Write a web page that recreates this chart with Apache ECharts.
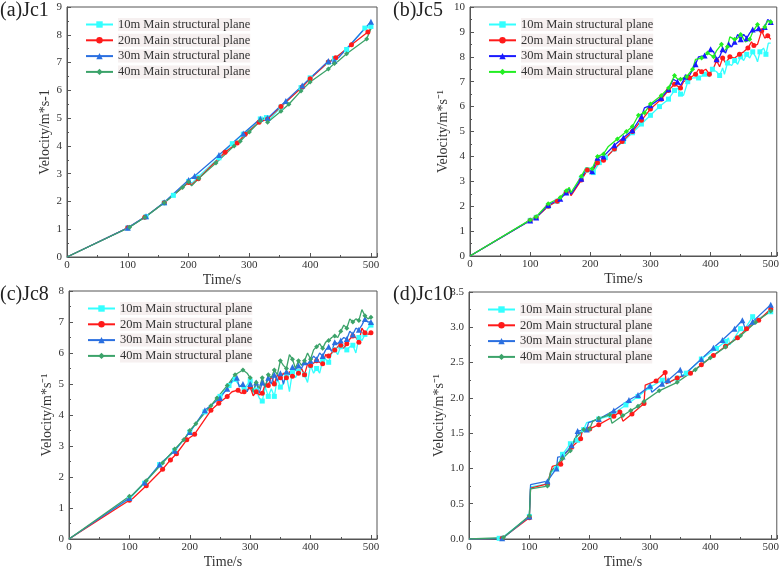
<!DOCTYPE html>
<html>
<head>
<meta charset="utf-8">
<script src="https://cdn.jsdelivr.net/npm/echarts@6/dist/echarts.min.js"></script>
<style>
html, body { margin: 0; padding: 0; background: #fff; }
#main { width: 782px; height: 570px; }
</style>
</head>
<body>
<div id="main"></div>
<script>
//图例名称
var seriesNames = ['10m Main structural plane', '20m Main structural plane', '30m Main structural plane', '40m Main structural plane'];
//面板标题
var panelTitles = ['(a)Jc1', '(b)Jc5', '(c)Jc8', '(d)Jc10'];
var yNames = ['Velocity/m*s-1', 'Velocity/m*s\u207B\u00B9', 'Velocity/m*s\u207B\u00B9', 'Velocity/m*s\u207B\u00B9'];
var yMax = [9, 10, 8, 3.5];
var yStep = [1, 1, 1, 0.5];
var xMax = 510;
var xStep = 100;

//(a) Jc1
var jc1_10 = [[0,0],[100,1.05],[130,1.45],[160,1.95],[175,2.22],[200,2.72],[205,2.65],[215,2.87],[250,3.57],[272,4.08],[290,4.42],[318,4.97],[328,5.02],[332,4.92],[352,5.4],[385,6.1],[400,6.45],[430,7.0],[440,7.15],[460,7.47],[490,8.24],[500,8.3]];
var jc1_20 = [[0,0],[100,1.05],[128,1.43],[160,1.95],[200,2.68],[205,2.6],[216,2.82],[260,3.77],[280,4.1],[293,4.42],[316,4.85],[330,4.97],[352,5.42],[387,6.12],[400,6.42],[430,7.02],[435,7.08],[442,7.17],[468,7.64],[495,8.1],[500,8.22]];
var jc1_30 = [[0,0],[100,1.05],[130,1.47],[160,1.97],[200,2.77],[210,2.92],[250,3.67],[290,4.45],[318,4.98],[330,5.0],[360,5.62],[387,6.17],[430,7.06],[440,7.06],[447,7.18],[500,8.47]];
var jc1_40 = [[0,0],[103,1.07],[128,1.43],[160,1.95],[190,2.5],[200,2.7],[205,2.56],[217,2.83],[245,3.38],[275,4.0],[285,4.17],[300,4.5],[318,4.9],[325,5.0],[330,4.85],[352,5.25],[365,5.5],[385,5.98],[400,6.3],[430,6.77],[440,6.97],[445,7.03],[460,7.32],[493,7.85],[500,8.22]];

//(b) Jc5
var jc5_10 = [[0,0],[100,1.43],[110,1.55],[130,2.0],[145,2.2],[160,2.55],[165,2.65],[168,2.5],[185,3.1],[195,3.45],[205,3.35],[215,3.75],[225,3.95],[240,4.3],[255,4.6],[270,4.95],[285,5.3],[300,5.65],[315,6.0],[330,6.3],[340,6.65],[345,6.75],[350,6.5],[355,6.45],[362,7.0],[370,7.15],[380,7.15],[390,7.3],[398,7.2],[403,7.5],[410,7.4],[415,7.25],[420,7.55],[423,7.3],[428,7.75],[435,7.65],[440,7.85],[445,7.7],[450,8.0],[455,7.85],[460,8.1],[465,7.95],[470,8.2],[475,8.0],[478,7.8],[482,8.2],[488,8.35],[492,8.1],[496,8.55],[500,8.55]];
var jc5_20 = [[0,0],[100,1.43],[110,1.55],[130,2.0],[145,2.2],[160,2.55],[165,2.65],[168,2.42],[185,3.05],[195,3.45],[203,3.38],[212,3.75],[222,3.85],[240,4.3],[253,4.6],[270,5.0],[285,5.45],[300,5.9],[318,6.3],[330,6.65],[340,6.9],[350,6.75],[355,7.0],[365,7.15],[375,7.3],[380,7.5],[385,7.4],[392,7.5],[398,7.3],[405,7.55],[410,7.85],[415,7.6],[420,7.95],[425,7.75],[432,8.0],[440,7.95],[448,8.1],[455,8.2],[462,8.35],[468,8.6],[472,8.45],[478,8.5],[485,9.05],[490,8.75],[495,8.85],[500,8.7]];
var jc5_30 = [[0,0],[100,1.43],[110,1.55],[130,2.05],[150,2.3],[160,2.55],[165,2.68],[168,2.48],[185,3.1],[193,3.48],[203,3.4],[212,3.95],[222,4.0],[240,4.45],[255,4.75],[270,5.05],[285,5.6],[290,5.95],[300,6.05],[318,6.35],[330,6.7],[338,7.1],[345,7.0],[350,6.85],[358,7.2],[365,7.25],[375,7.7],[380,8.0],[390,8.05],[395,8.15],[400,8.3],[405,8.2],[410,7.9],[415,8.0],[420,8.3],[425,8.15],[430,8.5],[435,8.4],[440,8.6],[445,8.9],[450,8.7],[455,8.9],[460,8.75],[465,8.95],[470,9.1],[475,9.05],[480,9.15],[485,9.0],[490,9.2],[495,9.5],[500,9.4]];
var jc5_40 = [[0,0],[100,1.45],[110,1.58],[130,2.1],[150,2.35],[160,2.62],[165,2.75],[168,2.55],[185,3.2],[193,3.55],[203,3.5],[212,4.0],[222,4.1],[230,4.4],[245,4.7],[260,5.0],[270,5.2],[280,5.65],[290,5.75],[300,6.1],[318,6.45],[330,6.75],[340,7.25],[345,7.1],[350,7.1],[360,7.2],[370,7.5],[375,7.9],[385,7.95],[395,8.15],[405,8.0],[410,8.25],[418,8.5],[422,8.2],[428,8.4],[432,8.8],[440,8.7],[445,8.75],[450,8.9],[458,8.6],[465,8.7],[470,9.0],[478,9.3],[482,9.0],[490,9.2],[495,9.45],[500,9.4]];

//(c) Jc8
var jc8_10 = [[0,0],[100,1.3],[125,1.8],[150,2.4],[175,2.85],[200,3.45],[225,4.1],[250,4.6],[265,4.95],[275,5.15],[280,5.0],[290,4.85],[300,5.1],[305,4.7],[310,4.8],[315,4.55],[320,4.45],[325,4.9],[330,4.6],[335,4.85],[340,4.6],[345,5.2],[350,4.9],[355,5.0],[360,5.3],[365,4.75],[370,5.4],[375,5.2],[380,5.4],[385,5.5],[390,5.3],[395,5.05],[400,5.6],[405,5.35],[410,5.5],[415,5.35],[420,5.75],[425,5.8],[430,5.7],[435,6.0],[440,6.1],[445,5.95],[450,6.2],[455,6.25],[460,6.1],[465,6.2],[470,6.25],[475,6.0],[480,6.5],[485,6.4],[490,6.6],[495,6.8],[500,6.9]];
var jc8_20 = [[0,0],[100,1.25],[105,1.3],[128,1.72],[155,2.25],[168,2.55],[178,2.75],[195,3.2],[208,3.38],[235,4.15],[248,4.38],[262,4.6],[270,4.75],[280,4.8],[285,4.7],[290,4.75],[295,4.8],[300,4.9],[305,4.62],[310,4.75],[315,4.65],[320,4.7],[325,5.0],[330,4.95],[335,5.25],[340,5.0],[345,5.3],[350,5.2],[355,5.35],[360,5.2],[365,5.4],[370,5.25],[375,5.5],[380,5.35],[385,5.5],[390,5.3],[395,5.65],[400,5.6],[410,5.75],[420,5.65],[425,5.95],[430,5.9],[435,6.0],[440,6.1],[445,6.2],[450,6.25],[455,6.15],[460,6.3],[465,6.45],[470,6.55],[475,6.5],[480,6.35],[485,6.8],[490,6.65],[495,6.6],[500,6.65]];
var jc8_30 = [[0,0],[100,1.32],[125,1.82],[150,2.4],[175,2.85],[200,3.45],[225,4.15],[250,4.55],[262,4.85],[270,5.1],[278,5.2],[282,4.9],[288,5.0],[295,4.75],[300,5.0],[305,4.75],[310,5.05],[315,4.7],[320,5.05],[325,4.9],[330,5.2],[335,5.0],[340,5.3],[345,5.1],[350,5.35],[355,5.0],[360,5.4],[365,5.3],[370,5.55],[375,5.45],[380,5.6],[385,5.5],[390,5.7],[395,5.65],[400,5.75],[405,5.9],[410,5.8],[415,6.0],[420,5.9],[425,6.1],[430,6.2],[435,6.05],[440,6.35],[445,6.3],[450,6.4],[455,6.5],[460,6.45],[465,6.7],[470,6.6],[475,6.8],[480,6.75],[485,6.9],[490,7.1],[495,7.0],[500,7.0]];
var jc8_40 = [[0,0],[100,1.38],[105,1.42],[128,1.88],[155,2.45],[175,2.9],[190,3.2],[200,3.5],[210,3.72],[235,4.3],[245,4.55],[262,4.95],[275,5.3],[288,5.45],[295,5.35],[300,5.2],[305,4.75],[310,5.05],[315,4.85],[320,5.2],[325,4.9],[330,5.3],[335,5.2],[340,5.45],[345,5.3],[350,5.75],[355,5.6],[360,5.5],[365,5.95],[370,5.8],[375,5.5],[380,5.75],[385,5.6],[390,5.75],[395,6.0],[400,5.8],[405,6.1],[410,6.2],[415,6.3],[420,6.15],[425,6.35],[430,6.4],[435,6.5],[440,6.55],[445,6.5],[450,6.7],[455,6.9],[460,6.8],[465,7.1],[470,7.0],[475,7.1],[480,7.05],[485,7.4],[490,7.2],[495,7.1],[500,7.15]];

//(d) Jc10
var jc10_10 = [[0,0],[50,0.01],[57,0.03],[100,0.32],[102,0.74],[130,0.78],[137,0.95],[145,1.0],[155,1.2],[168,1.35],[180,1.4],[190,1.55],[195,1.65],[215,1.7],[235,1.75],[260,1.9],[280,2.02],[300,2.15],[320,2.25],[325,2.28],[327,2.2],[345,2.28],[360,2.35],[385,2.55],[410,2.7],[425,2.8],[430,2.85],[432,2.75],[450,2.98],[455,2.95],[470,3.15],[475,3.1],[500,3.22]];
var jc10_20 = [[0,0],[55,0.01],[100,0.3],[102,0.72],[130,0.78],[138,1.03],[152,1.06],[158,1.2],[170,1.3],[185,1.42],[188,1.55],[200,1.56],[215,1.62],[240,1.74],[250,1.8],[255,1.67],[270,1.77],[290,1.92],[292,2.18],[310,2.24],[325,2.36],[327,2.2],[345,2.28],[367,2.35],[385,2.47],[405,2.6],[425,2.73],[445,2.85],[460,2.98],[480,3.1],[500,3.26]];
var jc10_30 = [[0,0],[55,0.01],[60,0.04],[100,0.32],[102,0.77],[130,0.82],[145,1.0],[147,1.16],[155,1.17],[163,1.25],[170,1.33],[175,1.38],[180,1.53],[195,1.55],[198,1.65],[215,1.7],[240,1.82],[265,1.97],[280,2.04],[300,2.17],[303,2.08],[320,2.2],[330,2.25],[350,2.4],[353,2.3],[385,2.55],[405,2.71],[420,2.82],[440,2.98],[453,3.1],[458,2.97],[470,3.08],[500,3.32]];
var jc10_40 = [[0,0],[57,0.02],[100,0.33],[102,0.71],[130,0.75],[135,0.95],[155,1.14],[168,1.25],[175,1.42],[190,1.55],[200,1.56],[205,1.67],[215,1.71],[233,1.76],[237,1.64],[255,1.75],[268,1.82],[280,1.88],[290,1.95],[315,2.1],[345,2.22],[375,2.4],[400,2.57],[425,2.72],[450,2.88],[475,3.07],[500,3.23]];

var panelData = [
	[jc1_10, jc1_20, jc1_30, jc1_40],
	[jc5_10, jc5_20, jc5_30, jc5_40],
	[jc8_10, jc8_20, jc8_30, jc8_40],
	[jc10_10, jc10_20, jc10_30, jc10_40]
];

//每个面板的配色
var panelColors = [
	['#33ffff', '#ff1a1a', '#2a6fe0', '#3ca36a'],
	['#33ffff', '#ff1a1a', '#1a1aff', '#22ee22'],
	['#33ffff', '#ff1a1a', '#2a6fe0', '#3ca36a'],
	['#33ffff', '#ff1a1a', '#2a6fe0', '#3ca36a']
];
var symbols = ['rect', 'circle', 'triangle', 'diamond'];

var grids = [
	{ left: 67, top: 7, width: 310, height: 250 },
	{ left: 470, top: 7, width: 307, height: 249 },
	{ left: 69, top: 291, width: 308, height: 248 },
	{ left: 469, top: 292, width: 309, height: 248 }
];
var yNameGaps = [14, 16, 15, 20];
var serif = 'Liberation Serif, Times New Roman, serif';

//标记点稀疏显示
var markData = function(arr) {
	var lastX = -100;
	return arr.map(function(d) {
		if(d[0] > 0 && d[0] - lastX >= 9) {
			lastX = d[0];
			return { value: d };
		}
		return { value: d, symbol: 'none' };
	});
};

var option = {
	backgroundColor: '#fff',
	animation: false,
	title: [],
	legend: [],
	grid: [],
	xAxis: [],
	yAxis: [],
	series: []
};

for(var p = 0; p < 4; p++) {
	var g = grids[p];
	option.grid.push({
		left: g.left, top: g.top, width: g.width, height: g.height,
		show: true, borderColor: '#555', borderWidth: 1, backgroundColor: 'transparent'
	});
	option.title.push({
		text: panelTitles[p],
		left: p % 2 == 0 ? 0 : 393,
		top: p < 2 ? 1 : 285,
		padding: 0,
		textStyle: { fontFamily: serif, fontSize: 20, fontWeight: 'normal', color: '#222' }
	});
	option.xAxis.push({
		gridIndex: p,
		type: 'value',
		min: 0,
		max: xMax,
		interval: xStep,
		name: 'Time/s',
		nameLocation: 'middle',
		nameGap: 16,
		nameTextStyle: { fontFamily: serif, fontSize: 14, color: '#333' },
		axisLine: { lineStyle: { color: '#555' } },
		axisTick: { inside: true, length: 4, lineStyle: { color: '#555' } },
		minorTick: { show: true, splitNumber: 2, length: 2, lineStyle: { color: '#555' } },
		splitLine: { show: false },
		axisLabel: { showMaxLabel: false, margin: 3, fontFamily: serif, fontSize: 11, color: '#333' }
	});
	option.yAxis.push({
		gridIndex: p,
		type: 'value',
		min: 0,
		max: yMax[p],
		interval: yStep[p],
		name: yNames[p],
		nameLocation: 'middle',
		nameGap: yNameGaps[p],
		nameTextStyle: { fontFamily: serif, fontSize: 14, color: '#333' },
		axisLine: { lineStyle: { color: '#555' } },
		axisTick: { inside: true, length: 4, lineStyle: { color: '#555' } },
		minorTick: { show: true, splitNumber: 2, length: 2, lineStyle: { color: '#555' } },
		splitLine: { show: false },
		axisLabel: {
			margin: 5, fontFamily: serif, fontSize: 11, color: '#333',
			formatter: (function(step) {
				return function(v) { return step < 1 ? v.toFixed(1) : String(v); };
			})(yStep[p])
		}
	});
	var legendData = [];
	for(var s = 0; s < 4; s++) {
		var sname = seriesNames[s] + '#' + p;
		legendData.push(sname);
		option.series.push({
			name: sname,
			type: 'line',
			xAxisIndex: p,
			yAxisIndex: p,
			data: markData(panelData[p][s]),
			symbol: symbols[s],
			symbolSize: s == 2 ? 6 : 5,
			color: panelColors[p][s],
			lineStyle: { width: 1.3, color: panelColors[p][s] },
			itemStyle: { color: panelColors[p][s] }
		});
	}
	option.legend.push({
		data: legendData,
		orient: 'vertical',
		left: g.left + 18,
		top: g.top + 11,
		itemWidth: 27,
		itemHeight: 8,
		itemGap: 2.8,
		padding: 0,
		formatter: function(n) { return n.split('#')[0]; },
		textStyle: { fontFamily: serif, fontSize: 12.5, lineHeight: 13, color: '#333', backgroundColor: '#f6f0f0', padding: 0 }
	});
}

var chart = echarts.init(document.getElementById('main'));
chart.setOption(option);
</script>
</body>
</html>
